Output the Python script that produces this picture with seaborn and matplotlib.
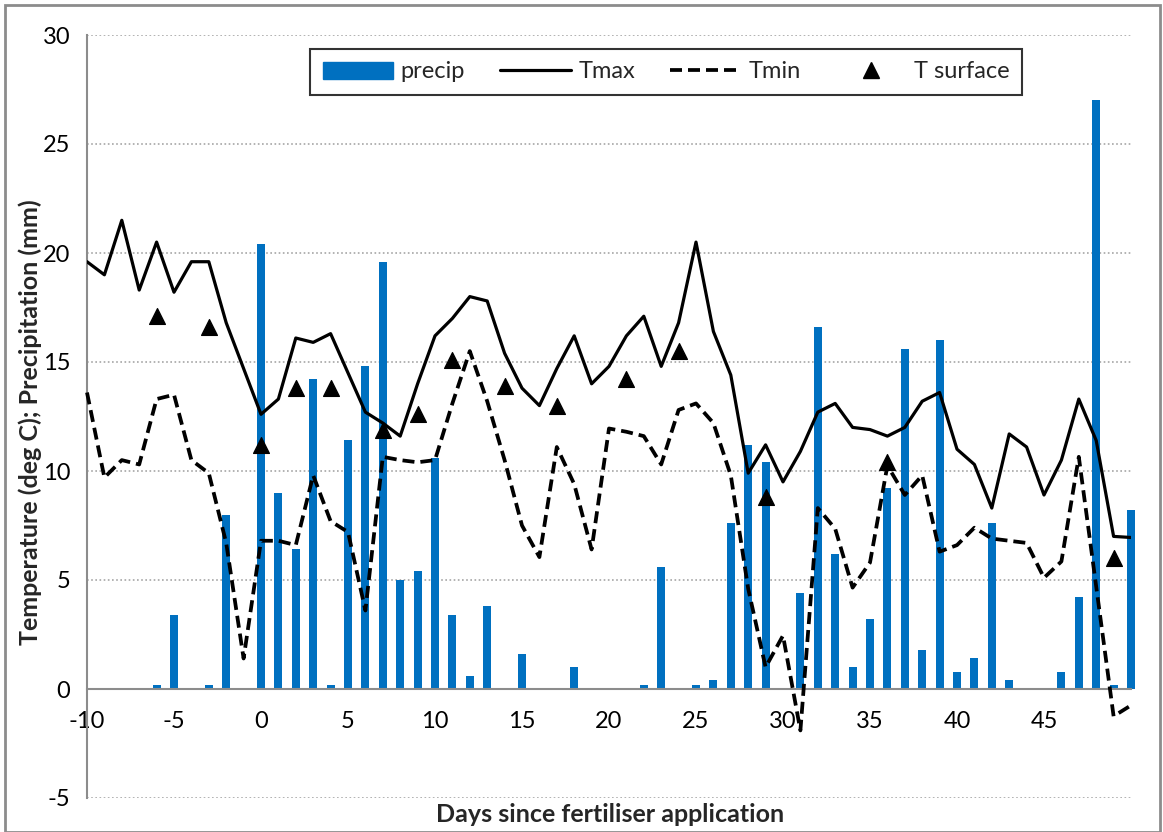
import numpy as np
import pandas as pd
import matplotlib
matplotlib.use("Agg")
import matplotlib.pyplot as plt
from matplotlib.lines import Line2D
from matplotlib.patches import Patch, Rectangle
import seaborn as sns

days = list(range(-10, 51))
tmax = [19.6, 19.0, 21.5, 18.3, 20.5, 18.2, 19.6, 19.6, 16.8, 14.7,
        12.6, 13.3, 16.1, 15.9, 16.3, 14.5, 12.7, 12.2, 11.6, 14.0,
        16.2, 17.0, 18.0, 17.8, 15.4, 13.8, 13.0, 14.7, 16.2, 14.0,
        14.8, 16.2, 17.1, 14.8, 16.8, 20.5, 16.4, 14.4, 9.9, 11.2,
        9.5, 10.9, 12.7, 13.1, 12.0, 11.9, 11.6, 12.0, 13.2, 13.6,
        11.0, 10.3, 8.3, 11.7, 11.1, 8.9, 10.5, 13.3, 11.4, 7.0, 6.95]
tmin = [13.6, 9.7, 10.5, 10.3, 13.3, 13.5, 10.5, 9.9, 6.7, 1.4,
        6.8, 6.8, 6.6, 9.8, 7.7, 7.2, 3.6, 10.65, 10.5, 10.4,
        10.5, 13.1, 15.5, 13.2, 10.5, 7.5, 6.05, 11.1, 9.4, 6.4,
        11.95, 11.8, 11.6, 10.3, 12.8, 13.1, 12.2, 9.8, 4.6, 1.0,
        2.45, -1.9, 8.3, 7.35, 4.65, 5.8, 10.25, 8.9, 9.8, 6.3,
        6.6, 7.4, 6.9, 6.8, 6.7, 5.1, 5.85, 10.65, 4.7, -1.25, -0.75]
precip_days = [-6, -5, -3, -2, 0, 1, 2, 3, 4, 5, 6, 7, 8, 9, 10, 11, 12, 13,
               15, 18, 22, 23, 25, 26, 27, 28, 29, 31, 32, 33, 34, 35, 36,
               37, 38, 39, 40, 41, 42, 43, 46, 47, 48, 49, 50]
precip = [0.2, 3.4, 0.2, 8.0, 20.4, 9.0, 6.4, 14.2, 0.2, 11.4, 14.8, 19.6,
          5.0, 5.4, 10.6, 3.4, 0.6, 3.8, 1.6, 1.0, 0.2, 5.6, 0.2, 0.4, 7.6,
          11.2, 10.4, 4.4, 16.6, 6.2, 1.0, 3.2, 9.2, 15.6, 1.8, 16.0, 0.8,
          1.4, 7.6, 0.4, 0.8, 4.2, 27.0, 0.2, 8.2]
tsurf_days = [-6, -3, 0, 2, 4, 7, 9, 11, 14, 17, 21, 24, 29, 36, 49]
tsurf = [17.1, 16.6, 11.2, 13.8, 13.8, 11.9, 12.6, 15.1, 13.9, 13.0,
         14.2, 15.5, 8.8, 10.4, 6.0]

x_ticks = list(range(-10, 46, 5))
y_ticks = list(range(-5, 31, 5))

sns.set_style("white")
plt.rcParams['font.family'] = ['Lato', 'DejaVu Sans']
plt.rcParams['axes.unicode_minus'] = False

BLUE = "#0070C0"
GRAY = "#8c8c8c"

fig = plt.figure(figsize=(11.63, 8.32), dpi=100)
ax = fig.add_axes([87/1163, 1 - 798/832, (1131 - 87)/1163, (798 - 35)/832])

df_t = pd.DataFrame({"day": days, "tmax": tmax, "tmin": tmin})
df_p = pd.DataFrame({"day": precip_days, "precip": precip})
df_s = pd.DataFrame({"day": tsurf_days, "tsurf": tsurf})

# precipitation bars
bars = ax.bar(df_p["day"], df_p["precip"], width=0.46, color=BLUE,
              linewidth=0, zorder=2)
for b in bars:
    b.set_clip_on(False)

sns.lineplot(data=df_t, x="day", y="tmax", ax=ax, color="black",
             linewidth=2.3, zorder=3, legend=False)
sns.lineplot(data=df_t, x="day", y="tmin", ax=ax, color="black",
             linewidth=2.7, zorder=3, legend=False, dashes=False)
ax.lines[-1].set_dashes((3.2, 1.6))
ax.lines[-1].set_clip_on(False)
sns.scatterplot(data=df_s, x="day", y="tsurf", ax=ax, marker="^",
                color="black", s=130, edgecolor="black", zorder=4,
                legend=False)

ax.set_xlim(-10, 50)
ax.set_ylim(-5, 30)
ax.set_xticks(x_ticks)
ax.set_xticks(np.arange(-10, 50.1, 2.5), minor=True)
ax.set_yticks(y_ticks)

for y in y_ticks:
    if y != 0:
        ax.axhline(y, color="#a6a6a6", linestyle=(0, (1, 1.5)),
                   linewidth=1.2, zorder=1)

for s in ["top", "right"]:
    ax.spines[s].set_visible(False)
ax.spines["bottom"].set_position(("data", 0))
ax.spines["bottom"].set_color(GRAY)
ax.spines["left"].set_color(GRAY)
ax.spines["bottom"].set_linewidth(1.5)
ax.spines["left"].set_linewidth(1.5)

ax.tick_params(axis="both", which="both", direction="out", color=GRAY,
               width=1.5, labelsize=17, labelcolor="black")
ax.tick_params(axis="x", which="major", length=7, pad=9)
ax.tick_params(axis="x", which="minor", length=7)
ax.tick_params(axis="y", length=7, pad=5)
ax.set_xticklabels([str(t) for t in x_ticks])
ax.set_yticklabels([str(t) for t in y_ticks])

ax.set_xlabel("")
ax.set_ylabel("")
fig.text(610/1163, 1 - 814/832, "Days since fertiliser application",
         ha="center", va="center", fontsize=18, fontweight="bold")
fig.text(30/1163, 1 - 422/832, "Temperature (deg C); Precipitation (mm)",
         ha="center", va="center", rotation=90, fontsize=18,
         fontweight="bold")

handles = [
    Patch(facecolor=BLUE, edgecolor=BLUE),
    Line2D([0], [0], color="black", linewidth=2.3),
    Line2D([0], [0], color="black", linewidth=2.7, dashes=(3.2, 1.6)),
    Line2D([0], [0], color="black", marker="^", linestyle="none",
           markersize=11),
]
labels = ["precip", "Tmax", "Tmin", "T surface"]
leg = ax.legend(handles, labels, ncol=4, loc="center",
                bbox_to_anchor=((666 - 87)/1044, (798 - 72)/763),
                frameon=True, fancybox=False, edgecolor="black",
                fontsize=17, handlelength=3.0, columnspacing=1.5,
                borderpad=0.55, handletextpad=0.3)
leg.get_frame().set_linewidth(1.5)

fig.patches.append(Rectangle((5/1163, 0.0), (1160 - 5)/1163,
                             1 - 5/832, transform=fig.transFigure,
                             fill=False, edgecolor=GRAY, linewidth=2))

fig.savefig("out.png", dpi=100)
